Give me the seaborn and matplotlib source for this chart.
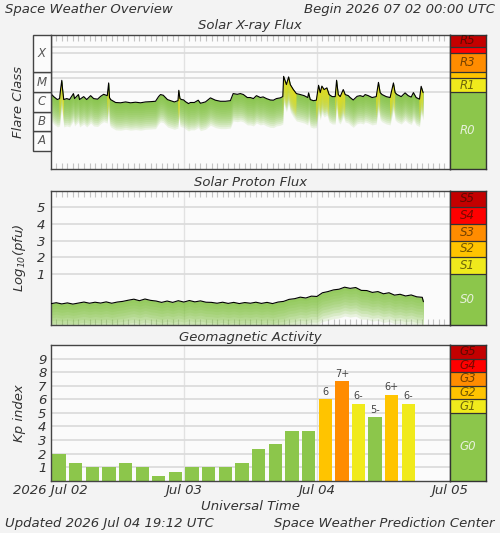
import numpy as np
import matplotlib
matplotlib.use('Agg')
import matplotlib.pyplot as plt
import seaborn as sns
from matplotlib.patches import Rectangle

# hours since 2026-07-02 00:00 UTC
xray_hours = [0.0, 0.6, 1.2, 1.6, 1.8, 2.0, 2.15, 2.35, 2.9, 3.4,
              4.1, 4.3, 5.0, 5.2, 5.95, 6.5, 7.2, 7.75, 8.45, 9.0,
              9.55, 10.2, 10.45, 10.6, 10.8, 11.7, 12.6, 13.5, 14.4, 15.3,
              16.2, 17.1, 18.0, 18.9, 19.45, 19.8, 20.3, 21.05, 21.6, 22.3,
              22.95, 23.1, 23.3, 23.6, 23.95, 24.3, 24.85, 25.2, 25.9, 26.6,
              27.0, 27.9, 28.8, 29.7, 30.6, 31.5, 32.4, 32.9, 33.65, 34.2,
              34.75, 35.45, 36.0, 36.55, 37.1, 37.8, 38.3, 38.9, 39.6, 40.15,
              40.7, 41.4, 41.85, 42.0, 42.5, 42.9, 43.2, 43.75, 44.3, 45.0,
              45.7, 46.35, 46.5, 46.8, 47.35, 47.9, 48.3, 48.6, 48.9, 49.3,
              49.8, 50.2, 50.75, 51.3, 51.55, 51.85, 52.2, 52.75, 53.1, 53.65,
              54.0, 54.55, 55.25, 55.8, 56.35, 56.7, 57.25, 57.95, 58.7, 59.1,
              59.4, 59.75, 60.5, 61.2, 61.8, 62.1, 62.45, 63.2, 63.9, 64.45,
              65.0, 65.4, 65.9, 66.5, 66.8, 67.15]
# X-ray flux in C1 units (1e-6 W/m^2)
xray_c = [8.3, 5.6, 4.1, 4.6, 15, 39.5, 13, 4.1, 4.6, 4.1,
          8.3, 4.6, 7.4, 4.1, 5.8, 4.1, 6.5, 4.6, 4.3, 6.0,
          7.6, 6.5, 29, 5.2, 4.1, 2.9, 2.8, 3.1, 2.8, 3.0,
          2.8, 3.1, 3.2, 3.35, 5.8, 7.4, 6.8, 4.1, 3.6, 3.1,
          3.6, 12.2, 4.6, 4.1, 3.95, 3.2, 2.55, 2.9, 2.9, 3.8,
          2.65, 3.1, 5.0, 3.8, 3.35, 3.35, 3.6, 8.3, 7.6, 8.3,
          7.4, 5.2, 5.2, 4.6, 6.5, 5.2, 5.6, 4.6, 3.9, 3.8,
          4.6, 5.0, 5.8, 63, 23.9, 59, 23.9, 13.3, 8.3, 7.4,
          6.5, 5.2, 9.0, 4.1, 3.6, 3.8, 22, 9.3, 20, 13.3,
          16.2, 7.4, 5.8, 5.8, 40, 7.4, 5.8, 13.3, 7.4, 6.5,
          5.2, 3.9, 6.0, 6.5, 5.8, 7.4, 6.5, 5.2, 5.8, 31,
          9.3, 7.4, 5.8, 5.2, 29, 9.3, 7.4, 5.8, 9.0, 6.5,
          5.5, 9.3, 5.2, 4.3, 19.5, 9.3]

proton_hours = [0, 1, 2, 3, 4, 5, 6, 7, 8, 9, 10, 11, 12, 13, 14, 15, 16, 17,
                18, 19, 20, 21, 22, 23, 24, 25, 26, 27, 28, 29, 30, 31, 32, 33,
                34, 35, 36, 37, 38, 39, 40, 41, 42, 43, 44, 45, 46, 47, 48, 49,
                50, 51, 52, 53, 54, 55, 56, 57, 58, 59, 60, 61, 62, 63, 64, 65,
                66, 67, 67.2]
# log10 of >=10 MeV proton flux (pfu)
proton_log = [-0.74, -0.68, -0.75, -0.69, -0.76, -0.70,
              -0.64, -0.71, -0.65, -0.70, -0.63, -0.71, -0.64, -0.60, -0.53,
              -0.47, -0.56, -0.46, -0.54, -0.58, -0.66,
              -0.58, -0.66, -0.56, -0.64, -0.55, -0.63, -0.57, -0.65,
              -0.66, -0.71, -0.65, -0.72, -0.66, -0.73, -0.67, -0.71, -0.65,
              -0.72, -0.66, -0.73, -0.64, -0.60,
              -0.48, -0.44, -0.35, -0.40, -0.29, -0.31, -0.09, -0.02, 0.08,
              0.12, 0.24, 0.17, 0.22, 0.05, 0.04, -0.07, -0.02, -0.15, -0.09,
              -0.23, -0.18, -0.28, -0.22, -0.33, -0.36, -0.62]

kp_hours = [1.5, 4.5, 7.5, 10.5, 13.5, 16.5, 19.5, 22.5,
            25.5, 28.5, 31.5, 34.5, 37.5, 40.5, 43.5, 46.5,
            49.5, 52.5, 55.5, 58.5, 61.5, 64.5]
kp_values = [2.0, 1.33, 1.0, 1.0, 1.33, 1.0, 0.33, 0.67,
             1.0, 1.0, 1.0, 1.33, 2.33, 2.67, 3.67, 3.67,
             6.0, 7.33, 5.67, 4.67, 6.33, 5.67]
kp_labels = ['', '', '', '', '', '', '', '',
             '', '', '', '', '', '', '', '',
             '6', '7+', '6-', '5-', '6+', '6-']

day_ticks = [0, 24, 48, 72]
day_labels = ['2026 Jul 02', 'Jul 03', 'Jul 04', 'Jul 05']

r_bounds = [1e-5, 5e-5, 1e-4, 1e-3, 2e-3]
r_labels = ['R0', 'R1', '', 'R3', '', 'R5']
s_bounds = [1, 2, 3, 4, 5]
s_labels = ['S0', 'S1', 'S2', 'S3', 'S4', 'S5']
g_bounds = [5, 6, 7, 8, 9]
g_labels = ['G0', 'G1', 'G2', 'G3', 'G4', 'G5']
flare_bounds = [1e-8, 1e-7, 1e-6, 1e-5, 1e-4]
flare_labels = ['A', 'B', 'C', 'M', 'X']

level_colors = ['#8cc64b', '#f0ea1c', '#ffc400', '#ff8c00', '#ff0000', '#c40000']
GREEN = '#80c23e'
TXT = '#333333'

sns.set_style('white')
plt.rcParams['font.family'] = ['DejaVu Sans']
plt.rcParams['font.style'] = 'italic'
plt.rcParams['font.size'] = 9.5
plt.rcParams['text.color'] = TXT

fig = plt.figure(figsize=(5, 5.33), dpi=100, facecolor='#f3f3f3')

L, W = 0.1014, 0.7986
ax1 = fig.add_axes([L, 0.6829, W, 0.2520])
ax2 = fig.add_axes([L, 0.3902, W, 0.2520])
ax3 = fig.add_axes([L, 0.0981, W, 0.2546])
XLIM1 = (1.15e-9, 8.5e-3)


def style_panel(ax, levels, minor=True):
    ax.set_facecolor('#fbfbfb')
    ax.set_xlim(0, 72)
    for s in ax.spines.values():
        s.set_color('#444444')
        s.set_linewidth(1)
    for d in [24, 48]:
        ax.axvline(d, color='#e2e2e2', lw=1, zorder=0)
    for lv in levels:
        ax.axhline(lv, color='#dcdcdc', lw=1.3, zorder=0)
    ax.set_xticks(day_ticks)
    if minor:
        ax.set_xticks(np.arange(0, 73, 1), minor=True)
        ax.tick_params(axis='x', which='minor', direction='in', top=True,
                       bottom=True, length=4, width=0.8, color='#c4c4c4')
    ax.tick_params(axis='x', which='major', length=0)
    ax.tick_params(axis='y', length=0, labelcolor=TXT)


def scale_box(ax_ref, bounds, labels, ylim, log=False):
    p = ax_ref.get_position()
    ax = fig.add_axes([0.9, p.y0, 0.071, p.height])
    if log:
        ax.set_yscale('log')
    ax.set_ylim(ylim)
    ax.set_xlim(0, 1)
    edges = [ylim[0]] + bounds + [ylim[1]]
    for i, lab in enumerate(labels):
        lo, hi = edges[i], edges[i + 1]
        ax.axhspan(lo, hi, facecolor=level_colors[i], edgecolor='none')
        if i > 0:
            ax.axhline(lo, color='#333333', lw=0.9)
        mid = np.sqrt(lo * hi) if log else (lo + hi) / 2
        col = '#f2f6ec' if i == 0 else '#1a1000'
        ax.text(0.5, mid, lab, ha='center', va='center', fontsize=8.5,
                color=col, alpha=0.9 if i == 0 else 0.6)
    ax.set_xticks([])
    ax.set_yticks([])
    ax.minorticks_off()
    for s in ax.spines.values():
        s.set_color('#333333')
        s.set_linewidth(1)
    return ax


# --- Solar X-ray flux
t1 = np.array(xray_hours)
flux = np.array(xray_c) * 1e-6
ax1.set_yscale('log')
style_panel(ax1, r_bounds)
for k in range(14):
    ax1.fill_between(t1, flux, flux * 10 ** (-(k + 1) * 0.1), color=GREEN,
                     alpha=0.14, lw=0, zorder=1)
flare = flux >= 1e-5
flare = flare | np.roll(flare, 1) | np.roll(flare, -1)
for k in range(10):
    ax1.fill_between(t1, flux, flux * 10 ** (-(k + 1) * 0.12), where=flare,
                     color='#f4e41c', alpha=0.15, lw=0, zorder=1.5)
sns.lineplot(x=t1, y=flux, ax=ax1, color='black', lw=0.8, zorder=3)
ax1.set_ylim(XLIM1)
ax1.set_yticks([])
ax1.minorticks_off()
ax1.set_xticks(np.arange(0, 73, 1), minor=True)
ax1.tick_params(axis='x', which='minor', direction='in', top=True,
                bottom=True, length=4, width=0.8, color='#c4c4c4')
ax1.tick_params(axis='y', which='both', length=0, labelleft=False)
ax1.tick_params(axis='x', labelbottom=False)
ax1.set_xlabel('')
ax1.set_ylabel('')

# flare class column
axf = fig.add_axes([0.066, 0.6829, 0.0354, 0.2520])
axf.set_yscale('log')
axf.set_ylim(XLIM1)
axf.set_xlim(0, 1)
fedges = flare_bounds + [XLIM1[1]]
for i, lab in enumerate(flare_labels):
    lo, hi = fedges[i], fedges[i + 1]
    axf.add_patch(Rectangle((0, lo), 1, hi - lo, facecolor='#fbfbfb',
                            edgecolor='#444444', lw=1, clip_on=False))
    axf.text(0.5, np.sqrt(lo * hi), lab, ha='center', va='center',
             fontsize=8.5, color='#555555')
axf.axis('off')

scale_box(ax1, r_bounds, r_labels, XLIM1, log=True)

# --- Solar proton flux
t2 = np.array(proton_hours)
pl = np.array(proton_log)
style_panel(ax2, s_bounds)
for k in range(10):
    ax2.fill_between(t2, pl, pl - (k + 1) * 0.17, color=GREEN, alpha=0.15,
                     lw=0, zorder=1)
sns.lineplot(x=t2, y=pl, ax=ax2, color='black', lw=0.8, zorder=3)
ax2.set_ylim(-2, 5.95)
ax2.set_yticks(s_bounds)
ax2.tick_params(axis='y', pad=4)
ax2.tick_params(axis='x', labelbottom=False)
ax2.set_xlabel('')
ax2.set_ylabel('')
scale_box(ax2, s_bounds, s_labels, (-2, 5.95))

# --- Geomagnetic activity
sns.barplot(x=kp_hours, y=kp_values, native_scale=True, color=GREEN,
            errorbar=None, ax=ax3, linewidth=0, zorder=2)
for bar, v in zip(ax3.patches, kp_values):
    lvl = int(np.floor(v)) - 4 if v >= 5 else 0
    bar.set_facecolor(level_colors[lvl])
    bar.set_alpha(1)
for h, v, lab in zip(kp_hours, kp_values, kp_labels):
    if lab:
        ax3.text(h, v + 0.2, lab, ha='center', va='bottom', fontsize=7,
                 fontstyle='normal', color='#444444', zorder=4)
style_panel(ax3, list(range(1, 10)), minor=False)
ax3.set_ylim(0, 10)
ax3.set_yticks(list(range(1, 10)))
ax3.tick_params(axis='y', pad=3)
ax3.set_xticks(day_ticks)
ax3.set_xticklabels(day_labels)
ax3.tick_params(axis='x', pad=2.5, labelcolor=TXT)
ax3.set_xlabel('')
ax3.set_ylabel('')
scale_box(ax3, g_bounds, g_labels, (0, 10))

# --- texts
fig.text(0.010, 0.9756, 'Space Weather Overview', ha='left', va='baseline')
fig.text(0.990, 0.9756, 'Begin 2026 07 02 00:00 UTC', ha='right', va='baseline')
fig.text(0.5007, 0.9447, 'Solar X-ray Flux', ha='center', va='baseline')
fig.text(0.5007, 0.6510, 'Solar Proton Flux', ha='center', va='baseline')
fig.text(0.5007, 0.3602, 'Geomagnetic Activity', ha='center', va='baseline')
fig.text(0.038, 0.8089, 'Flare Class', rotation=90, ha='center', va='center')
fig.text(0.038, 0.5162, 'Log$_{10}$(pfu)', rotation=90, ha='center', va='center')
fig.text(0.038, 0.2254, 'Kp index', rotation=90, ha='center', va='center')
fig.text(0.5007, 0.0493, 'Universal Time', ha='center', va='center')
fig.text(0.010, 0.0113, 'Updated 2026 Jul 04 19:12 UTC', ha='left', va='baseline')
fig.text(0.990, 0.0113, 'Space Weather Prediction Center', ha='right', va='baseline')

fig.savefig('out.png', dpi=100, facecolor=fig.get_facecolor())
